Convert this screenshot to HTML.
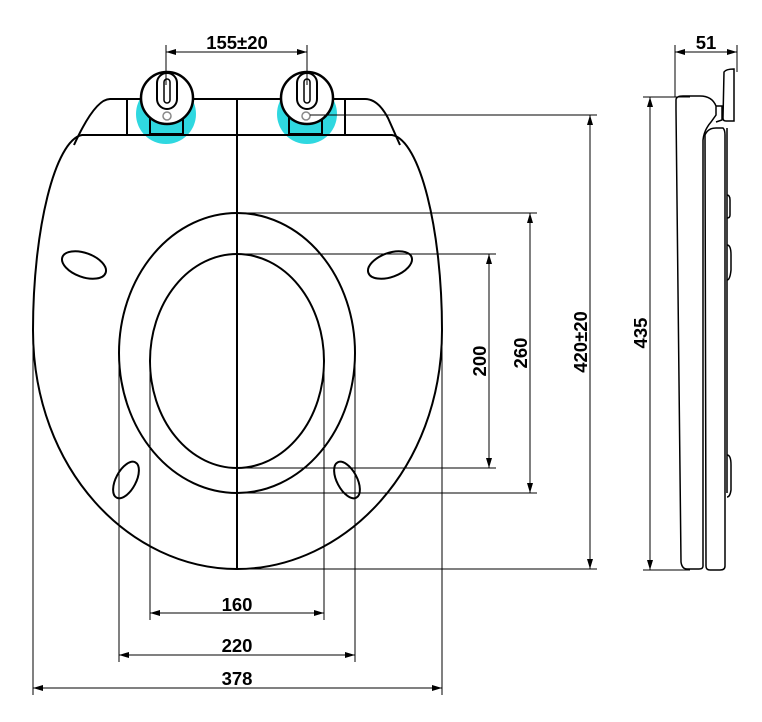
<!DOCTYPE html>
<html><head><style>
html,body{margin:0;padding:0;background:#fff;}
svg{display:block;}
text{font-family:"Liberation Sans",Arial,sans-serif;font-weight:bold;font-size:18.5px;fill:#000;}
</style></head><body>
<svg width="762" height="722" viewBox="0 0 762 722" xmlns="http://www.w3.org/2000/svg">
<defs>
<marker id="a" viewBox="0 0 10 6" refX="10" refY="3" markerWidth="10" markerHeight="6" orient="auto-start-reverse" markerUnits="userSpaceOnUse"><path d="M0,0 L10,3 L0,6 z" fill="#000"/></marker>
</defs>
<circle cx="166" cy="114" r="30" fill="#2fd8e0"/>
<circle cx="307" cy="114" r="30" fill="#2fd8e0"/>
<g fill="none" stroke="#000" stroke-width="2">
<path d="M74,145 Q95,99 110,99 L365,99 Q378,99 388,118 L400,145"/>
<line x1="127" y1="99" x2="127" y2="135"/>
<line x1="345" y1="99" x2="345" y2="135"/>
<path d="M82,135 C55,140 33,230 33,330 C33,470 130,569 237,569 C344,569 442,470 442,330 C442,230 420,140 392,135 Z"/>
<ellipse cx="237" cy="353" rx="118" ry="140"/>
<ellipse cx="237" cy="361" rx="87" ry="107"/>
<ellipse cx="84" cy="265" rx="23" ry="12" transform="rotate(20 84 265)"/>
<ellipse cx="390" cy="265" rx="23" ry="12" transform="rotate(-20 390 265)"/>
<ellipse cx="126" cy="480" rx="20" ry="10" transform="rotate(-62 126 480)"/>
<ellipse cx="347" cy="480" rx="20" ry="10" transform="rotate(62 347 480)"/>
<rect x="150" y="116" width="33" height="18" stroke-width="2"/>
<rect x="289" y="116" width="33" height="18" stroke-width="2"/>
<circle cx="167" cy="98" r="26" fill="#fff" stroke-width="2.5"/>
<circle cx="307" cy="98" r="26" fill="#fff" stroke-width="2.5"/>
<rect x="157" y="73" width="20" height="36" rx="10"/>
<rect x="297" y="73" width="20" height="36" rx="10"/>
<rect x="164" y="79" width="6" height="24" rx="3" stroke-width="1.5"/>
<rect x="304" y="79" width="6" height="24" rx="3" stroke-width="1.5"/>
</g>
<circle cx="167" cy="116" r="4" fill="#fff" stroke="#888" stroke-width="1.5"/>
<circle cx="306" cy="116" r="4" fill="#fff" stroke="#888" stroke-width="1.5"/>
<line x1="237" y1="99" x2="237" y2="569" stroke="#000" stroke-width="2"/>
<g stroke="#000" stroke-width="1" fill="none">
<line x1="166" y1="45" x2="166" y2="85"/><line x1="307" y1="45" x2="307" y2="85"/>
<line x1="166" y1="52" x2="307" y2="52" marker-start="url(#a)" marker-end="url(#a)"/>
<line x1="150" y1="361" x2="150" y2="620"/><line x1="324" y1="361" x2="324" y2="620"/>
<line x1="150" y1="613" x2="324" y2="613" marker-start="url(#a)" marker-end="url(#a)"/>
<line x1="119" y1="353" x2="119" y2="662"/><line x1="355" y1="353" x2="355" y2="662"/>
<line x1="119" y1="655" x2="355" y2="655" marker-start="url(#a)" marker-end="url(#a)"/>
<line x1="33" y1="330" x2="33" y2="695"/><line x1="442" y1="330" x2="442" y2="695"/>
<line x1="33" y1="688" x2="442" y2="688" marker-start="url(#a)" marker-end="url(#a)"/>
<line x1="237" y1="254" x2="496" y2="254"/><line x1="237" y1="468" x2="496" y2="468"/>
<line x1="489" y1="254" x2="489" y2="468" marker-start="url(#a)" marker-end="url(#a)"/>
<line x1="237" y1="213" x2="537" y2="213"/><line x1="237" y1="493" x2="537" y2="493"/>
<line x1="530" y1="213" x2="530" y2="493" marker-start="url(#a)" marker-end="url(#a)"/>
<line x1="310" y1="115" x2="597" y2="115"/><line x1="237" y1="569" x2="597" y2="569"/>
<line x1="590" y1="115" x2="590" y2="569" marker-start="url(#a)" marker-end="url(#a)"/>
<line x1="643" y1="97" x2="690" y2="97"/><line x1="643" y1="570" x2="690" y2="570"/>
<line x1="650" y1="97" x2="650" y2="570" marker-start="url(#a)" marker-end="url(#a)"/>
<line x1="675" y1="45" x2="675" y2="97"/><line x1="737" y1="45" x2="737" y2="72"/>
<line x1="675" y1="52" x2="737" y2="52" marker-start="url(#a)" marker-end="url(#a)"/>
</g>
<g fill="none" stroke="#000" stroke-width="1.5">
<path d="M676,100 Q676,96 683,96 L700,96 Q712,96 716,106 L716,115 L711,122 Q704,130 703,140 L703,566 Q703,569 699,569 L687,569 Q682,569 681,562 L676,110 Z"/>
<path d="M705,135 Q708,128 716,128 L723,128 Q725,130 725,135 L725,566 Q725,570 720,570 L710,570 Q706,570 706,566 Z"/>
<path d="M716,106 L722,106 L722,120 L716,122"/>
<path d="M724,72 Q726,69 734,69 L734,121 L726,121 Q723,121 723,118 Z"/>
<line x1="727" y1="128" x2="727" y2="493"/>
<path d="M727,195 Q730,195 730,200 L730,215 Q730,218 727,218"/>
<path d="M727,245 Q731,245 731,255 L731,270 Q730,280 727,280"/>
<path d="M727,455 Q731,455 731,465 L731,490 Q730,497 727,497"/>
</g>
<text x="237" y="49" text-anchor="middle">155±20</text>
<text x="237" y="611" text-anchor="middle">160</text>
<text x="237" y="652" text-anchor="middle">220</text>
<text x="237" y="685" text-anchor="middle">378</text>
<text x="706" y="49" text-anchor="middle">51</text>
<text transform="translate(486 361) rotate(-90)" text-anchor="middle">200</text>
<text transform="translate(527 353) rotate(-90)" text-anchor="middle">260</text>
<text transform="translate(587 342) rotate(-90)" text-anchor="middle">420±20</text>
<text transform="translate(647 333) rotate(-90)" text-anchor="middle">435</text>
</svg>
</body></html>
